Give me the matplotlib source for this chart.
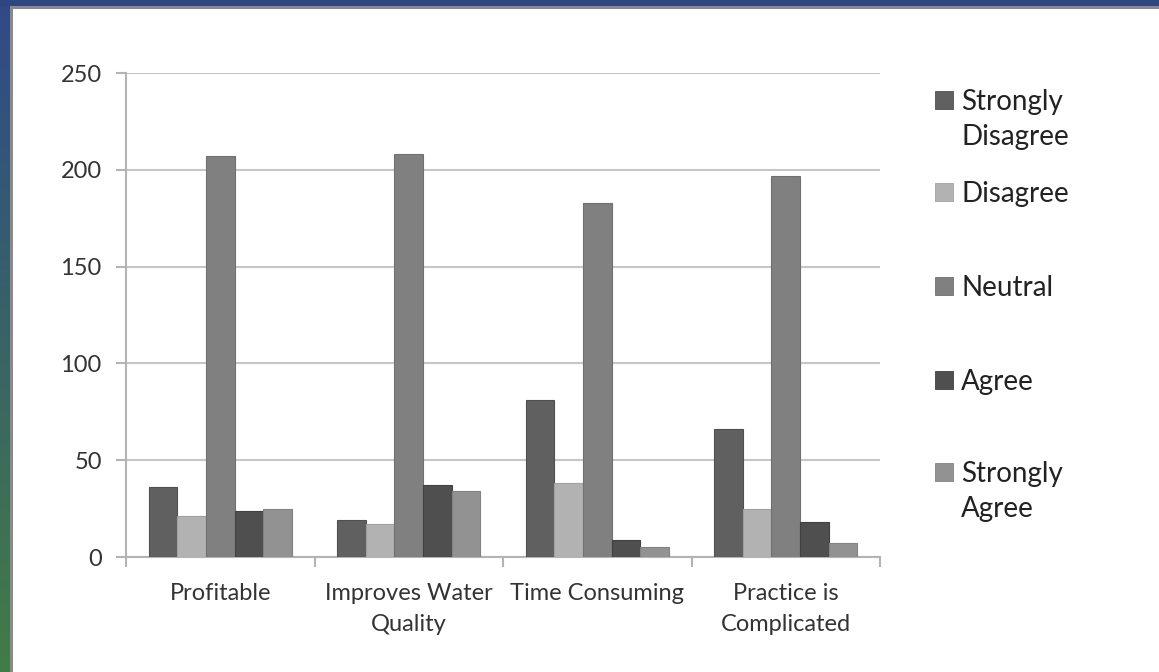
import matplotlib
matplotlib.use("Agg")
import matplotlib.pyplot as plt
from matplotlib.patches import Rectangle
import numpy as np

plt.rcParams['font.family'] = ['Lato', 'DejaVu Sans']

categories = ["Profitable", "Improves Water\nQuality", "Time Consuming", "Practice is\nComplicated"]
series = ["Strongly\nDisagree", "Disagree", "Neutral", "Agree", "Strongly\nAgree"]
strongly_disagree = [36, 19, 81, 66]
disagree = [21, 17, 38, 25]
neutral = [207, 208, 183, 197]
agree = [24, 37, 9, 18]
strongly_agree = [25, 34, 5, 7]
values = [strongly_disagree, disagree, neutral, agree, strongly_agree]
colors = ["#606060", "#b2b2b2", "#808080", "#4f4f4f", "#929292"]
edges = ["#505050", "#a0a0a0", "#707070", "#404040", "#828282"]
yticks = [0, 50, 100, 150, 200, 250]

W, H = 1159, 672
fig = plt.figure(figsize=(W / 100, H / 100), dpi=100)

# slide background: gradient strip on the left, blue band on top
bg = fig.add_axes([0, 0, 1, 1], zorder=-10)
bg.set_xlim(0, W)
bg.set_ylim(H, 0)
bg.axis("off")
top_c = np.array([0x30, 0x4a, 0x88]) / 255
bot_c = np.array([0x42, 0x7c, 0x46]) / 255
t = np.linspace(0, 1, 256)[:, None, None]
grad = top_c * (1 - t) + bot_c * t
bg.imshow(grad, extent=[0, 10, H, 0], aspect="auto", interpolation="bilinear")
bg.add_patch(Rectangle((0, 0), W, 6, color="#30467e", lw=0))
bg.add_patch(Rectangle((10, 6), 3, H, color="#8a8a8a", lw=0))
bg.add_patch(Rectangle((10, 6), W, 2.5, color="#8a8a8a", lw=0))

ax = fig.add_axes([126 / W, 1 - 557 / H, (880 - 126) / W, (557 - 73) / H])
x = np.arange(len(categories))
bw = 0.152
for i, (vals, c, e) in enumerate(zip(values, colors, edges)):
    ax.bar(x + (i - 2) * bw, vals, bw, color=c, edgecolor=e, linewidth=0.8, zorder=3)

ax.set_xlim(-0.5, len(categories) - 0.5)
ax.set_ylim(0, 250)
ax.set_yticks(yticks)
ax.yaxis.grid(True, color="#c6c6c6", linewidth=1.5, zorder=0)
for s in ["top", "right"]:
    ax.spines[s].set_visible(False)
for s in ["left", "bottom"]:
    ax.spines[s].set_color("#b4b4b4")
    ax.spines[s].set_linewidth(1.5)
ax.set_xticks(x)
ax.set_xticklabels(categories, fontsize=17, color="#333333", linespacing=1.6)
ax.set_xticks(np.arange(-0.5, len(categories)), minor=True)
ax.tick_params(axis="x", which="major", length=0, pad=18.5)
ax.tick_params(axis="x", which="minor", length=7, width=1.5, color="#b4b4b4")
ax.tick_params(axis="y", length=7, width=1.5, color="#b4b4b4", labelsize=17,
               labelcolor="#333333", pad=10.5)

# legend drawn by hand, markers aligned with first text line
leg_y = [100, 192, 286, 380, 472]
for lab, c, e, yy in zip(series, colors, edges, leg_y):
    fig.patches.append(Rectangle((935 / W, 1 - (yy + 9) / H), 18 / W, 18 / H,
                                 facecolor=c, edgecolor=e, lw=0.6,
                                 transform=fig.transFigure))
    fig.text(961 / W, 1 - (yy - 11) / H, lab, fontsize=20, color="#222222",
             va="top", ha="left", linespacing=1.45)

fig.savefig("out.png", dpi=100)
